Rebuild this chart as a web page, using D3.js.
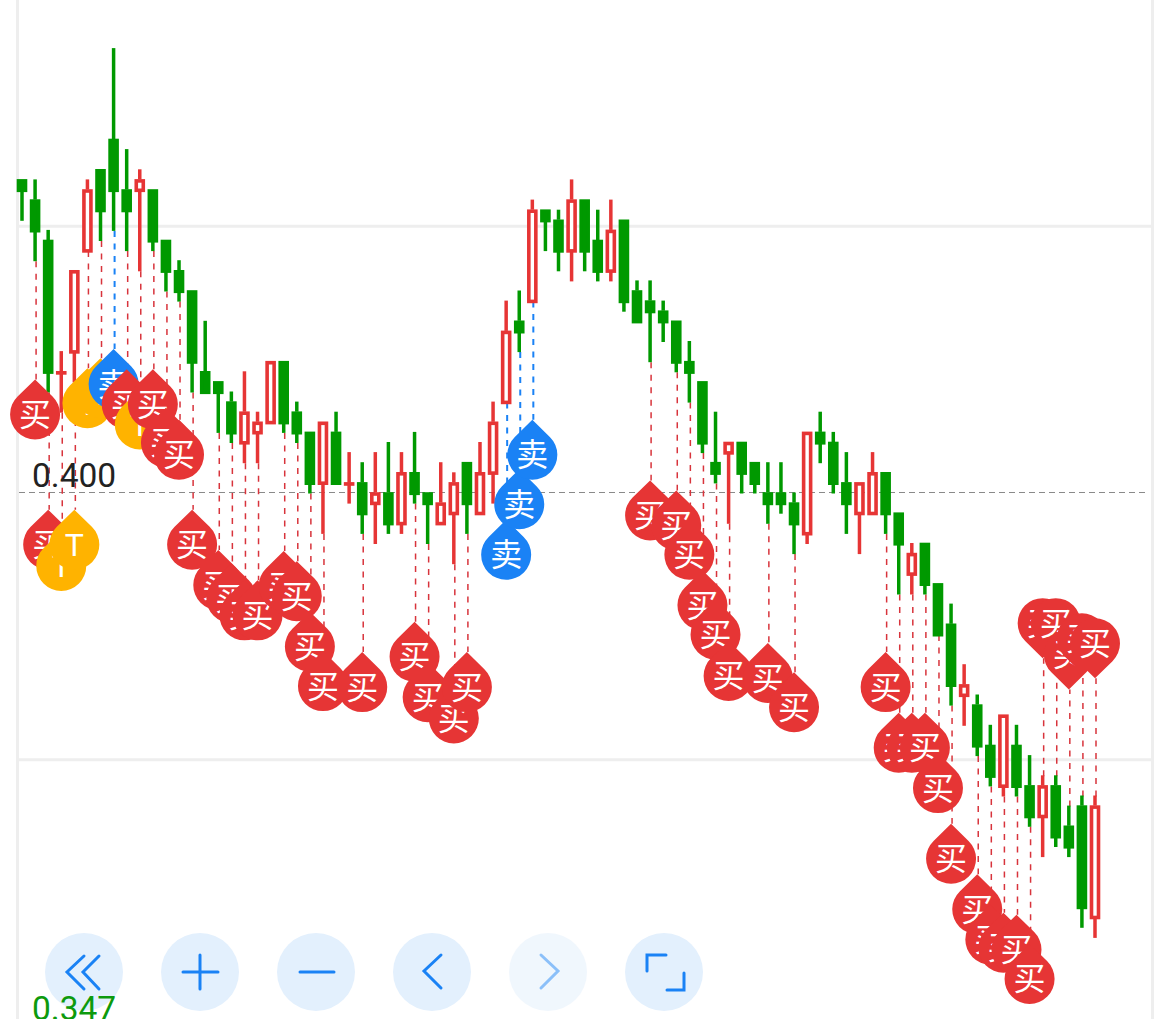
<!DOCTYPE html>
<html>
<head>
<meta charset="utf-8">
<script src="https://cdn.jsdelivr.net/npm/d3@7/dist/d3.min.js"></script>
<style>
  html, body { margin: 0; padding: 0; background: #fff; overflow: hidden; }
</style>
</head>
<body>
<svg id="kline" width="1170" height="1019"></svg>
<script>
// ohlc, one entry per candle
const opens = [0.431,0.429,0.425,0.412,0.414,0.424,0.432,0.435,0.430,0.430,0.430,0.425,0.422,0.420,0.412,0.411,0.409,0.405,0.406,0.407,0.413,0.408,0.406,0.401,0.406,0.401,0.401,0.399,0.400,0.397,0.402,0.400,0.397,0.398,0.403,0.398,0.402,0.409,0.417,0.419,0.428,0.427,0.424,0.429,0.425,0.422,0.427,0.420,0.419,0.418,0.417,0.413,0.411,0.403,0.404,0.405,0.403,0.400,0.400,0.399,0.396,0.406,0.405,0.401,0.398,0.398,0.402,0.398,0.392,0.395,0.391,0.387,0.380,0.379,0.375,0.371,0.375,0.371,0.368,0.371,0.367,0.369,0.358]
const closes = [0.430,0.426,0.412,0.412,0.422,0.430,0.428,0.430,0.428,0.431,0.425,0.422,0.420,0.413,0.410,0.410,0.406,0.408,0.407,0.413,0.407,0.406,0.401,0.407,0.401,0.401,0.398,0.400,0.397,0.402,0.400,0.399,0.399,0.401,0.399,0.402,0.407,0.416,0.416,0.428,0.427,0.424,0.429,0.424,0.422,0.426,0.419,0.417,0.418,0.417,0.413,0.412,0.405,0.402,0.405,0.402,0.401,0.399,0.399,0.397,0.406,0.405,0.401,0.399,0.401,0.402,0.398,0.395,0.394,0.391,0.386,0.381,0.381,0.375,0.372,0.378,0.371,0.368,0.371,0.366,0.365,0.359,0.369]
const highs = [0.431,0.431,0.426,0.414,0.422,0.431,0.432,0.444,0.434,0.432,0.430,0.425,0.423,0.420,0.417,0.411,0.410,0.412,0.408,0.413,0.413,0.409,0.406,0.407,0.408,0.404,0.403,0.404,0.405,0.404,0.406,0.400,0.403,0.402,0.403,0.405,0.409,0.419,0.420,0.429,0.428,0.428,0.431,0.429,0.428,0.429,0.427,0.421,0.421,0.419,0.417,0.415,0.411,0.408,0.405,0.405,0.403,0.403,0.403,0.400,0.406,0.408,0.406,0.404,0.401,0.404,0.402,0.398,0.395,0.395,0.391,0.389,0.383,0.380,0.377,0.378,0.377,0.374,0.372,0.372,0.369,0.370,0.370]
const lows = [0.427,0.423,0.410,0.408,0.411,0.424,0.425,0.426,0.424,0.422,0.424,0.420,0.419,0.410,0.410,0.406,0.405,0.403,0.403,0.407,0.406,0.405,0.400,0.396,0.401,0.399,0.396,0.395,0.396,0.396,0.399,0.395,0.397,0.393,0.396,0.398,0.399,0.409,0.414,0.419,0.424,0.422,0.421,0.422,0.421,0.421,0.418,0.417,0.413,0.415,0.412,0.409,0.404,0.401,0.397,0.400,0.400,0.397,0.398,0.394,0.395,0.403,0.400,0.396,0.394,0.398,0.396,0.390,0.390,0.390,0.386,0.379,0.377,0.374,0.371,0.370,0.370,0.367,0.364,0.365,0.364,0.357,0.356]

// signal pins: candle index, kind and the price the pin tip sits at
const markerIdx = [1,2,3,4,5,6,7,8,9,10,11,12,13,15,16,17,18,20,21,22,23,26,30,31,33,34,37,38,39,48,50,51,52,53,54,57,59,66,67,68,69,70,71,73,74,75,76,77,78,79,80,81,82]
const markerKind = ["buy","buy","t","t","t","t","sell","buy","t","buy","buy","buy","buy","buy","buy","buy","buy","buy","buy","buy","buy","buy","buy","buy","buy","buy","sell","sell","sell","buy","buy","buy","buy","buy","buy","buy","buy","buy","buy","buy","buy","buy","buy","buy","buy","buy","buy","buy","buy","buy","buy","buy","buy"]
const markerTip = [0.4112,0.3983,0.3962,0.3983,0.4123,0.4133,0.4142,0.4122,0.4102,0.4122,0.4084,0.4072,0.3983,0.3943,0.3930,0.3913,0.3913,0.3942,0.3932,0.3882,0.3843,0.3842,0.3872,0.3832,0.3811,0.3842,0.3973,0.4023,0.4072,0.4012,0.4002,0.3973,0.3923,0.3894,0.3853,0.3851,0.3822,0.3842,0.3782,0.3782,0.3782,0.3742,0.3672,0.3622,0.3592,0.3584,0.3582,0.3553,0.3836,0.3836,0.3805,0.3821,0.3816]

const gridTicks = [0.4264, 0.3736]
const priceLabels = [0.400, 0.347]
const buttonNames = ["first", "plus", "minus", "prev", "next", "full"]

const kindColor = {buy: "#e63535", sell: "#1a82f5", t: "#ffb300"}
const kindText = {buy: "买", sell: "卖", t: "T"}
const red = "#e63535", green = "#009900"

const svg = d3.select("#kline")
const candles = d3.range(opens.length)

const xScale = d3.scalePoint().domain(candles).range([22, 1095])
// 0.001 of price is about 10.1px in the reference
const yScale = d3.scaleLinear().domain([0.44, 0.35]).range([88.5, 997.5])

// grid and side borders
svg.append("g")
    .attr("transform", "translate(1153,0)")
    .call(d3.axisLeft(yScale).tickValues(gridTicks).tickSize(1135).tickFormat(""))
    .call(g => g.select(".domain").remove())
    .call(g => g.selectAll("line").attr("stroke", "#eeeeee").attr("stroke-width", 3))

svg.append("line").attr("x1", 17.5).attr("x2", 17.5).attr("y1", 0).attr("y2", 1019)
    .attr("stroke", "#eeeeee").attr("stroke-width", 3)
svg.append("line").attr("x1", 1152.5).attr("x2", 1152.5).attr("y1", 0).attr("y2", 1019)
    .attr("stroke", "#eeeeee").attr("stroke-width", 3)

svg.append("line")
    .attr("x1", 19).attr("x2", 1148)
    .attr("y1", Math.round(yScale(0.4)) + 0.5).attr("y2", Math.round(yScale(0.4)) + 0.5)
    .attr("stroke", "#8a8a8a")
    .attr("stroke-dasharray", "6,4")

// dashed leaders go first so pins and candles cover them
const markers = markerIdx.map((idx, i) => ({idx: idx, kind: markerKind[i], tip: markerTip[i], down: markerTip[i] > highs[idx]}))

svg.append("g").selectAll("line").data(markers).join("line")
    .attr("x1", d => xScale(d.idx) + 1)
    .attr("x2", d => xScale(d.idx) + 1)
    .attr("y1", d => yScale(d.down ? highs[d.idx] : lows[d.idx]) + 1)
    .attr("y2", d => yScale(d.tip))
    .attr("stroke", d => d.kind == "sell" ? kindColor.sell : "#d8343c")
    .attr("stroke-width", d => d.kind == "sell" ? 2 : 1.5)
    .attr("stroke-dasharray", "6,6.5")

// candles
const candle = svg.append("g").selectAll("g").data(candles).join("g")
    .attr("transform", d => `translate(${xScale(d)},0)`)
    .attr("stroke", d => closes[d] >= opens[d] ? red : green)

candle.append("line")
    .attr("y1", d => yScale(highs[d]))
    .attr("y2", d => yScale(Math.max(opens[d], closes[d])))
    .attr("stroke-width", 3.5)
candle.append("line")
    .attr("y1", d => yScale(Math.min(opens[d], closes[d])))
    .attr("y2", d => yScale(lows[d]) + 1)
    .attr("stroke-width", 3.5)

// body bottoms run a little past the close in the reference
candle.append("rect")
    .attr("x", -3.5)
    .attr("width", 7)
    .attr("y", d => yScale(Math.max(opens[d], closes[d])) + 1.5)
    .attr("height", d => Math.max(Math.abs(yScale(opens[d]) - yScale(closes[d])) - 0.7, 0.1))
    .attr("fill", d => closes[d] >= opens[d] ? "#fff" : green)
    .attr("stroke-width", 3.6)

// pins, tip on the price, round end towards the text
const pinR = 25, pinD = 35
const tx = pinR * Math.sqrt(1 - (pinR / pinD) * (pinR / pinD))
const ty = pinD - pinR * pinR / pinD
const pinPath = `M0,0L${tx},${ty}A${pinR},${pinR} 0 1 1 ${-tx},${ty}Z`

const pin = svg.append("g").selectAll("g").data(markers).join("g")
    .attr("transform", d => `translate(${xScale(d.idx)},${yScale(d.tip)})`)

pin.append("path")
    .attr("d", pinPath)
    .attr("transform", d => d.down ? "scale(1,-1)" : null)
    .attr("fill", d => kindColor[d.kind])

pin.append("text")
    .attr("y", d => d.down ? -pinD : pinD)
    .attr("dy", "0.36em")
    .attr("text-anchor", "middle")
    .attr("fill", "#fff")
    .attr("font-family", d => d.kind == "t" ? "Roboto" : "'Noto Sans CJK SC'")
    .attr("font-size", 32)
    .text(d => kindText[d.kind])

// toolbar
const buttonIcons = {
    first: "M84,956L67,972L84,989M99,956L83,972L99,989",
    plus: "M200,955V989M183,972H218",
    minus: "M300,972H334",
    prev: "M441,955L424,971L441,988",
    next: "M541,955L558,971L541,988",
    full: "M647,971V955H666M684,973V990H667"
}
const button = svg.append("g").selectAll("g").data(buttonNames).join("g")
    .attr("opacity", d => d == "next" ? 0.5 : 1)

button.append("circle")
    .attr("cx", (d, i) => 84 + i * 116)
    .attr("cy", 972)
    .attr("r", 39)
    .attr("fill", "#e3f0fd")

button.append("path")
    .attr("d", d => buttonIcons[d])
    .attr("fill", "none")
    .attr("stroke", "#1a82f5")
    .attr("stroke-width", 3)
    .attr("stroke-linecap", "round")

// price labels, sit just over their level
svg.append("g").selectAll("text").data(priceLabels).join("text")
    .attr("x", 32)
    .attr("y", d => yScale(d) - (d == 0.4 ? 6 : 8))
    .attr("font-family", "Roboto")
    .attr("font-size", 33.5)
    .attr("fill", d => d == 0.4 ? "#222222" : "#0d9a0d")
    .text(d => d3.format(".3f")(d))
</script>
</body>
</html>
